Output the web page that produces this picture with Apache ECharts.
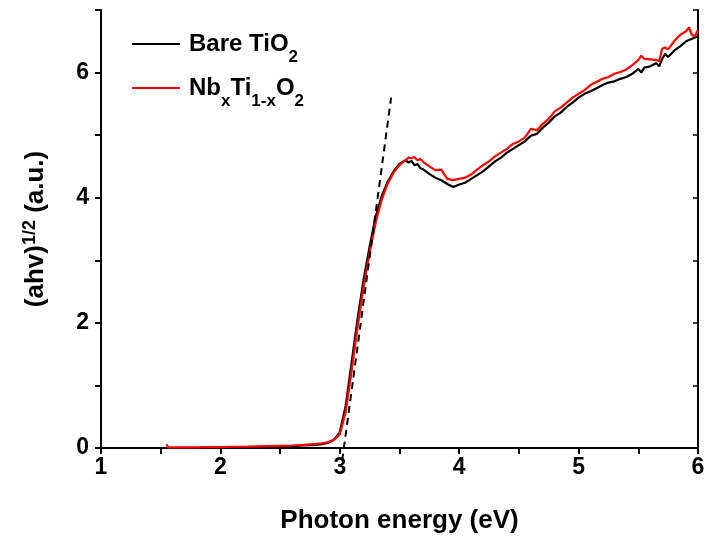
<!DOCTYPE html>
<html>
<head>
<meta charset="utf-8">
<script src="https://cdn.jsdelivr.net/npm/echarts@6/dist/echarts.min.js"></script>
<style>
  html, body { margin: 0; padding: 0; background: #fff; }
  #chart { width: 712px; height: 541px; }
</style>
</head>
<body>
<div id="chart"></div>
<script>
const energy = [
  1.55, 1.56, 1.6, 1.7, 1.8, 1.9, 2.0, 2.1, 2.2, 2.3,
  2.4, 2.5, 2.6, 2.7, 2.8, 2.85, 2.9, 2.95, 3.0, 3.05,
  3.1, 3.15, 3.2, 3.25, 3.3, 3.35, 3.4, 3.45, 3.5, 3.55,
  3.575, 3.6, 3.625, 3.65, 3.675, 3.7, 3.75, 3.8, 3.85, 3.9,
  3.95, 4.0, 4.05, 4.1, 4.15, 4.2, 4.25, 4.3, 4.35, 4.4,
  4.45, 4.5, 4.55, 4.6, 4.65, 4.7, 4.75, 4.8, 4.85, 4.9,
  4.95, 5.0, 5.05, 5.1, 5.15, 5.2, 5.25, 5.3, 5.35, 5.4,
  5.45, 5.5, 5.525, 5.55, 5.6, 5.65, 5.675, 5.7, 5.725, 5.75,
  5.8, 5.85, 5.9, 5.925, 5.95, 5.975, 6.0
];

const bareTiO2 = [
  0.0, 0.0, 0.0, 0.0, 0.0, 0.005, 0.005, 0.01, 0.01, 0.015,
  0.02, 0.025, 0.03, 0.04, 0.05, 0.06, 0.08, 0.13, 0.25, 0.68,
  1.38, 2.08, 2.7, 3.22, 3.7, 4.02, 4.25, 4.42, 4.54, 4.6,
  4.56, 4.59, 4.52, 4.54, 4.47, 4.45, 4.38, 4.32, 4.28, 4.22,
  4.17, 4.21, 4.24, 4.3, 4.36, 4.42, 4.5, 4.58, 4.64, 4.72,
  4.78, 4.84, 4.9, 4.99, 5.02, 5.12, 5.2, 5.3, 5.36, 5.45,
  5.52, 5.6, 5.66, 5.7, 5.75, 5.8, 5.84, 5.86, 5.9, 5.93,
  5.98, 6.06, 6.0, 6.08, 6.1, 6.15, 6.1, 6.22, 6.3, 6.25,
  6.35, 6.42, 6.5, 6.52, 6.54, 6.56, 6.58
];

const nbTiO2 = [
  0.06, 0.01, 0.01, 0.01, 0.01, 0.015, 0.015, 0.02, 0.02, 0.025,
  0.03, 0.035, 0.04, 0.05, 0.065, 0.075, 0.09, 0.13, 0.22, 0.58,
  1.25, 1.95, 2.58, 3.12, 3.6, 3.96, 4.22, 4.4, 4.52, 4.6,
  4.64, 4.63, 4.65, 4.6, 4.62, 4.57, 4.5, 4.44, 4.45, 4.3,
  4.28, 4.3, 4.32, 4.37, 4.45, 4.52, 4.58, 4.66, 4.72, 4.78,
  4.86, 4.9, 4.96, 5.1, 5.08, 5.18, 5.26, 5.38, 5.44, 5.52,
  5.6, 5.66, 5.72, 5.8, 5.85, 5.9, 5.93, 5.98, 6.01, 6.05,
  6.12, 6.2, 6.27, 6.22, 6.21, 6.2, 6.18, 6.38, 6.4, 6.37,
  6.5, 6.6, 6.66, 6.72, 6.6, 6.58, 6.68
];

// band-gap extrapolation line
const tangentX = [3.02, 3.43];
const tangentY = [-0.2, 5.6];

const seriesNames = ["Bare TiO2", "NbxTi1-xO2"];

const pairs = (xs, ys) => xs.map((x, i) => [x, ys[i]]);

const font = "'Liberation Sans', Arial, sans-serif";

const chart = echarts.init(document.getElementById("chart"));

chart.setOption({
  animation: false,
  grid: { left: 101, right: 14, top: 10, bottom: 93 },
  legend: {
    orient: "vertical",
    left: 127,
    top: 27,
    icon: "rect",
    itemWidth: 48,
    itemHeight: 2,
    itemGap: 10,
    data: seriesNames,
    formatter: (name) =>
      name === "Bare TiO2"
        ? "{t|Bare TiO}{s|2}"
        : "{t|Nb}{s|x}{t|Ti}{s|1-x}{t|O}{s|2}",
    textStyle: {
      padding: [10, 0, 0, 4],
      rich: {
        t: { fontFamily: font, fontWeight: "bold", fontSize: 24, color: "#000", lineHeight: 28, verticalAlign: "top" },
        s: { fontFamily: font, fontWeight: "bold", fontSize: 17, color: "#000", verticalAlign: "bottom", padding: [17, 0, 0, 0] },
      },
    },
  },
  xAxis: [
    {
      type: "value",
      min: 1,
      max: 6,
      interval: 1,
      name: "Photon energy (eV)",
      nameLocation: "middle",
      nameGap: 60,
      nameTextStyle: { fontFamily: font, fontWeight: "bold", fontSize: 26, color: "#000" },
      axisLine: { onZero: false, lineStyle: { color: "#000", width: 2 } },
      axisTick: { length: 6, lineStyle: { width: 2 } },
      minorTick: { show: true, splitNumber: 2, length: 6, lineStyle: { color: "#000", width: 2 } },
      axisLabel: { fontFamily: font, fontWeight: "bold", fontSize: 23, color: "#000", margin: 8 },
      splitLine: { show: false },
    },
    {
      type: "value",
      position: "top",
      min: 1,
      max: 6,
      interval: 0.5,
      axisLine: { lineStyle: { color: "#000", width: 2 } },
      axisTick: { inside: true, length: 5, lineStyle: { width: 1.5 } },
      axisLabel: { show: false },
      splitLine: { show: false },
    },
  ],
  yAxis: [
    {
      type: "value",
      min: 0,
      max: 7,
      interval: 2,
      name: "(ahv){sup|1/2} (a.u.)",
      nameLocation: "middle",
      nameRotate: 90,
      nameGap: 50,
      nameTextStyle: {
        fontFamily: font, fontWeight: "bold", fontSize: 26, color: "#000",
        rich: {
          sup: { fontFamily: font, fontWeight: "bold", fontSize: 18, color: "#000", verticalAlign: "top", padding: [0, 0, 12, 0] },
        },
      },
      axisLine: { lineStyle: { color: "#000", width: 2 } },
      axisTick: { length: 6, lineStyle: { width: 2 } },
      minorTick: { show: true, splitNumber: 2, length: 6, lineStyle: { color: "#000", width: 2 } },
      axisLabel: { fontFamily: font, fontWeight: "bold", fontSize: 23, color: "#000", margin: 12, showMaxLabel: false },
      splitLine: { show: false },
    },
    {
      type: "value",
      position: "right",
      min: 0,
      max: 7,
      interval: 1,
      axisLine: { lineStyle: { color: "#000", width: 2 } },
      axisTick: { inside: true, length: 5, lineStyle: { width: 1.5 } },
      axisLabel: { show: false },
      splitLine: { show: false },
    },
  ],
  series: [
    {
      name: seriesNames[0],
      type: "line",
      symbol: "none",
      data: pairs(energy, bareTiO2),
      lineStyle: { color: "#000", width: 2.2 },
      itemStyle: { color: "#000" },
      z: 3,
    },
    {
      name: seriesNames[1],
      type: "line",
      symbol: "none",
      data: pairs(energy, nbTiO2),
      lineStyle: { color: "#ff0000", width: 2.2 },
      itemStyle: { color: "#ff0000" },
      z: 4,
    },
    {
      name: "tangent",
      type: "line",
      symbol: "none",
      clip: false,
      data: pairs(tangentX, tangentY),
      lineStyle: { color: "#000", width: 2, type: [7, 5] },
      z: 5,
    },
  ],
});
</script>
</body>
</html>
